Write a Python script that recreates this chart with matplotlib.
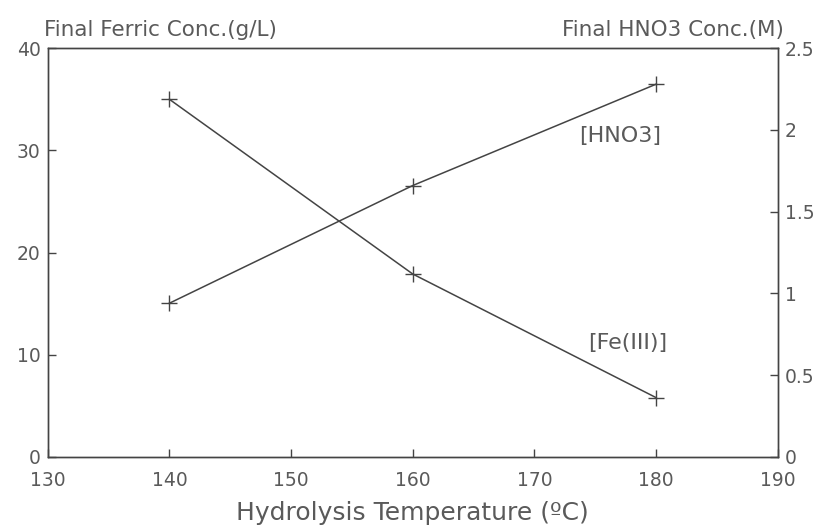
import matplotlib.pyplot as plt

temps = [140, 160, 180]
ferric = [35.0, 17.9, 5.8]     # g/L, left axis
hno3 = [0.94, 1.66, 2.28]      # M, right axis

x_ticks = [130, 140, 150, 160, 170, 180, 190]
left_ticks = [0, 10, 20, 30, 40]
right_ticks = [0, 0.5, 1, 1.5, 2, 2.5]
right_labels = ['0', '0.5', '1', '1.5', '2', '2.5']

txt = '#5a5a5a'
ln = '#444444'
plt.rcParams['font.family'] = ['DejaVu Sans']

fig = plt.figure(figsize=(8.23, 5.30), dpi=100)
ax = fig.add_axes([0.058, 0.138, 0.887, 0.771])
ax2 = ax.twinx()

ax.plot(temps, ferric, color=ln, lw=1.1, marker='+', ms=12, mew=1.0)
ax2.plot(temps, hno3, color=ln, lw=1.1, marker='+', ms=12, mew=1.0)

ax.set_xlim(130, 190)
ax.set_ylim(0, 40)
ax2.set_ylim(0, 2.5)
ax.set_xticks(x_ticks)
ax.set_yticks(left_ticks)
ax2.set_yticks(right_ticks)
ax2.set_yticklabels(right_labels)

for a in (ax, ax2):
    for s in a.spines.values():
        s.set_color(ln)
        s.set_linewidth(1.0)
    a.tick_params(direction='in', length=6, width=1.0, color=ln,
                  labelcolor=txt, labelsize=13.5, pad=5)
ax.tick_params(axis='x', top=False, pad=10)

ax.set_xlabel('Hydrolysis Temperature (ºC)', color=txt, fontsize=18, labelpad=8)
fig.text(0.054, 0.943, 'Final Ferric Conc.(g/L)', color=txt, fontsize=15.5,
         ha='left', va='center')
fig.text(0.953, 0.943, 'Final HNO3 Conc.(M)', color=txt, fontsize=15.5,
         ha='right', va='center')

ax.text(173.7, 31.4, '[HNO3]', color=txt, fontsize=16, va='center')
ax.text(174.4, 11.1, '[Fe(III)]', color=txt, fontsize=16, va='center')

fig.savefig('out.png', dpi=100)
